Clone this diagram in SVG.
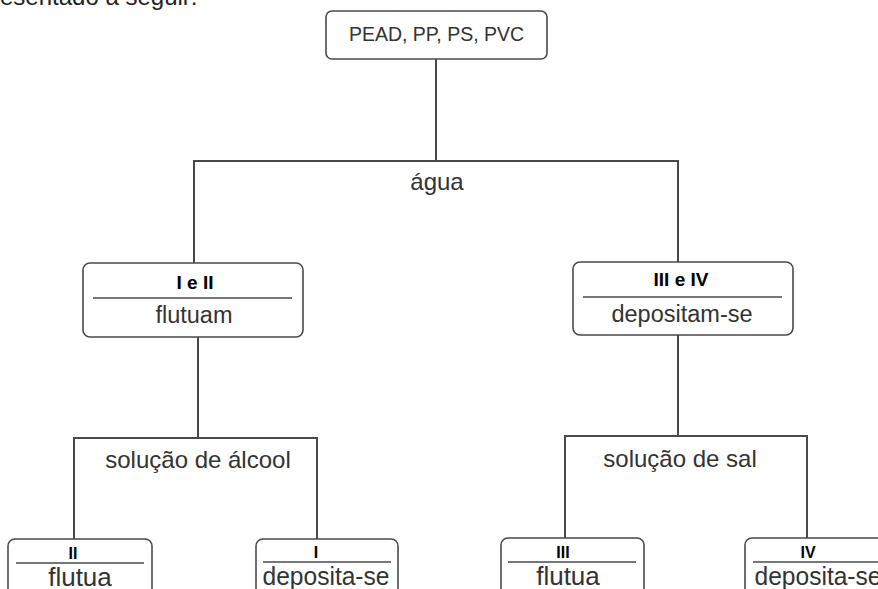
<svg xmlns="http://www.w3.org/2000/svg" width="878" height="589" viewBox="0 0 878 589">
<style>
.box{fill:#fff;stroke:#4a4a4a;stroke-width:1.6}
.div{stroke:#4a4a4a;stroke-width:1.6}
.ln{fill:none;stroke:#4a4a4a;stroke-width:2}
.t{font-family:"Liberation Sans",Arial,Helvetica,sans-serif;fill:#333;text-anchor:middle}
.b{font-family:"Liberation Sans",Arial,Helvetica,sans-serif;fill:#000;font-weight:bold;text-anchor:middle}
</style>
<rect width="878" height="589" fill="#fff"/>
<text x="0" y="4.5" font-family="Liberation Sans, Arial, sans-serif" font-size="24" fill="#222">esentado a seguir:</text>
<g id="connectors">
<path class="ln" d="M436 59V161M194 263V161H678V262"/>
<path class="ln" d="M198 337V438M74 539V438H317V539"/>
<path class="ln" d="M678 335V436M565 538V436H807V538"/>
</g>
<g id="labels">
<text class="t" x="437" y="190" font-size="24">água</text>
<text class="t" x="198" y="468" font-size="24">solução de álcool</text>
<text class="t" x="680" y="467" font-size="24">solução de sal</text>
</g>
<g id="root">
<rect class="box" x="326" y="11" width="221" height="48" rx="6"/>
<text class="t" x="436.5" y="41" font-size="19.5">PEAD, PP, PS, PVC</text>
</g>
<g id="n-I-II">
<rect class="box" x="83" y="263" width="220" height="74" rx="7"/>
<line class="div" x1="93" y1="298" x2="292" y2="298"/>
<text class="b" x="195" y="289" font-size="19">I e II</text>
<text class="t" x="194" y="323" font-size="23.5">flutuam</text>
</g>
<g id="n-III-IV">
<rect class="box" x="573" y="262" width="220" height="73" rx="7"/>
<line class="div" x1="583" y1="297" x2="782" y2="297"/>
<text class="b" x="681" y="286" font-size="19">III e IV</text>
<text class="t" x="682" y="322" font-size="23.5">depositam-se</text>
</g>
<g id="n-II">
<rect class="box" x="8" y="539" width="144" height="80" rx="7"/>
<line class="div" x1="16" y1="563" x2="144" y2="563"/>
<text class="b" x="73" y="559" font-size="16">II</text>
<text class="t" x="80" y="586" font-size="26">flutua</text>
</g>
<g id="n-I">
<rect class="box" x="256" y="539" width="142" height="80" rx="7"/>
<line class="div" x1="263" y1="562" x2="391" y2="562"/>
<text class="b" x="316" y="558" font-size="16">I</text>
<text class="t" x="326" y="585" font-size="26" textLength="127" lengthAdjust="spacingAndGlyphs">deposita-se</text>
</g>
<g id="n-III">
<rect class="box" x="501" y="538" width="143" height="80" rx="7"/>
<line class="div" x1="508" y1="562" x2="636" y2="562"/>
<text class="b" x="563" y="558" font-size="16">III</text>
<text class="t" x="568" y="585" font-size="26">flutua</text>
</g>
<g id="n-IV">
<rect class="box" x="745" y="538" width="143" height="80" rx="7"/>
<line class="div" x1="753" y1="562" x2="880" y2="562"/>
<text class="b" x="808" y="558" font-size="16">IV</text>
<text class="t" x="818" y="585" font-size="26" textLength="127" lengthAdjust="spacingAndGlyphs">deposita-se</text>
</g>
</svg>
